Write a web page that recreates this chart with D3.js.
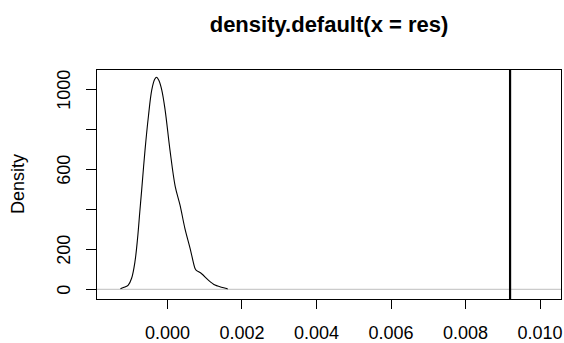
<!DOCTYPE html>
<html>
<head>
  <meta charset="utf-8">
  <script src="https://d3js.org/d3.v7.min.js"></script>
  <style>
    body { margin: 0; background: #fff; }
    svg { font-family: "Liberation Sans", Arial, sans-serif; }
    .axis path, .axis line { stroke: #000; shape-rendering: crispEdges; }
    .axis text { font-size: 18px; fill: #000; }
  </style>
</head>
<body>
<script>
  // density estimate
  var densX = [-0.00125, -0.00122, -0.00110, -0.00104, -0.00095, -0.00086, -0.00079,
               -0.00073, -0.00068, -0.00059, -0.00050, -0.00041, -0.00033, -0.00028,
               -0.00022, -0.00014, -0.00005, 0.00008, 0.00022, 0.00035, 0.00048,
               0.00062, 0.00075, 0.00078, 0.00093, 0.00111, 0.00129, 0.00142,
               0.00160, 0.00163];
  var densY = [2, 5, 14, 21, 55, 138, 255, 388, 496, 696, 863, 996, 1050, 1060,
               1045, 996, 896, 696, 515, 421, 305, 205, 105, 96, 78, 46, 21, 13, 4, 2];
  var vLine = 0.00921;
  var xTicks = [0, 0.002, 0.004, 0.006, 0.008, 0.010];
  var yTicks = [0, 200, 400, 600, 800, 1000];
  var yTickLabels = ["0", "200", "", "600", "", "1000"];
  var title = "density.default(x = res)";
  var yTitle = "Density";

  function draw() {
    var width = 564, height = 343;
    var mLeft = 96, mRight = 562, mTop = 69, mBottom = 299;

    var svg = d3.select("body").append("svg")
      .attr("width", width)
      .attr("height", height);

    svg.append("rect")
      .attr("width", width)
      .attr("height", height)
      .attr("fill", "#fff");

    var x = d3.scaleLinear()
      .domain([-0.001906, 0.010604])
      .range([mLeft, mRight]);

    var y = d3.scaleLinear()
      .domain([-48.5, 1101.5])
      .range([mBottom, mTop]);

    // zero line
    svg.append("line")
      .attr("x1", mLeft).attr("x2", mRight)
      .attr("y1", y(0)).attr("y2", y(0))
      .attr("stroke", "#bebebe")
      .attr("stroke-width", 1);

    var pts = densX.map(function(d, i) { return [d, densY[i]]; });

    svg.append("path")
      .datum(pts)
      .attr("fill", "none")
      .attr("stroke", "#000")
      .attr("stroke-width", 1.1)
      .attr("d", d3.line()
        .x(function(d) { return x(d[0]); })
        .y(function(d) { return y(d[1]); })
        .curve(d3.curveCatmullRom));

    svg.append("line")
      .attr("x1", x(vLine)).attr("x2", x(vLine))
      .attr("y1", mTop).attr("y2", mBottom)
      .attr("stroke", "#000")
      .attr("stroke-width", 2.2);

    // x axis
    var xAxis = svg.append("g")
      .attr("class", "axis")
      .attr("transform", "translate(0," + mBottom + ")")
      .call(d3.axisBottom(x)
        .tickValues(xTicks)
        .tickSize(10)
        .tickSizeOuter(0)
        .tickPadding(17)
        .tickFormat(d3.format(".3f")));
    xAxis.select(".domain").remove();

    // y axis
    var yAxis = svg.append("g")
      .attr("class", "axis")
      .attr("transform", "translate(" + mLeft + ",0)")
      .call(d3.axisLeft(y)
        .tickValues(yTicks)
        .tickSize(10)
        .tickSizeOuter(0)
        .tickFormat(function(d, i) { return yTickLabels[i]; }));
    yAxis.select(".domain").remove();
    yAxis.selectAll(".tick text")
      .attr("x", null)
      .attr("dy", null)
      .attr("text-anchor", "middle")
      .attr("transform", "translate(-26,0) rotate(-90)");

    // box
    svg.append("rect")
      .attr("x", mLeft + 0.5)
      .attr("y", mTop + 0.5)
      .attr("width", mRight - mLeft - 1)
      .attr("height", mBottom - mTop)
      .attr("fill", "none")
      .attr("stroke", "#000")
      .attr("shape-rendering", "crispEdges");

    svg.append("text")
      .attr("x", (mLeft + mRight) / 2)
      .attr("y", 32)
      .attr("text-anchor", "middle")
      .style("font-size", "22px")
      .style("font-weight", "bold")
      .text(title);

    svg.append("text")
      .attr("transform", "translate(24," + (mTop + mBottom) / 2 + ") rotate(-90)")
      .attr("text-anchor", "middle")
      .style("font-size", "18px")
      .text(yTitle);
  }

  draw();
</script>
</body>
</html>
